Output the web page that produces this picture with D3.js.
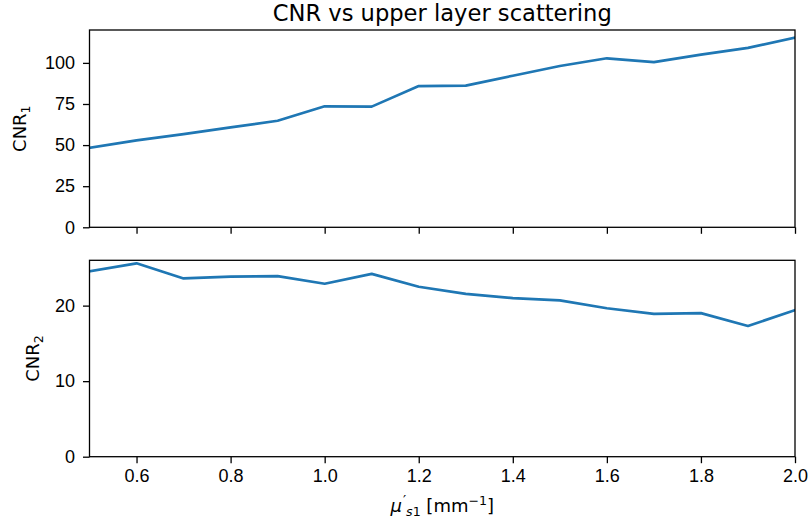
<!DOCTYPE html>
<html>
<head>
<meta charset="utf-8">
<script src="https://cdn.jsdelivr.net/npm/d3@7"></script>
<style>
  body { margin: 0; background: #fff; }
  svg { font-family: "DejaVu Sans", sans-serif; }
  .axis line { stroke: #000; stroke-width: 1.3; }
  .axis text { font-size: 18px; fill: #000; }
</style>
</head>
<body>
<div class="chart"></div>
<script>
// data
const mu_s1 = [0.5, 0.6, 0.7, 0.8, 0.9, 1.0, 1.1, 1.2, 1.3, 1.4, 1.5, 1.6, 1.7, 1.8, 1.9, 2.0];
const cnr1 = [48.4, 52.9, 56.7, 60.8, 64.8, 73.6, 73.4, 85.9, 86.2, 92.2, 98.1, 102.8, 100.5, 105.0, 109.1, 115.3];
const cnr2 = [24.55, 25.6, 23.6, 23.85, 23.9, 22.9, 24.2, 22.5, 21.55, 21.0, 20.7, 19.65, 18.9, 19.0, 17.3, 19.4];
const xTicks = [0.6, 0.8, 1.0, 1.2, 1.4, 1.6, 1.8, 2.0];
const y1Ticks = [0, 25, 50, 75, 100];
const y2Ticks = [0, 10, 20];

const svg_width = 811, svg_height = 527;
const left = 89.5, right = 795;
const top1 = 30, bot1 = 227.3;
const top2 = 260.3, bot2 = 456.7;

const svg = d3.select('.chart').append('svg')
    .attr('width', svg_width).attr('height', svg_height);

const xScale = d3.scaleLinear().domain([0.5, 2.0]).range([left, right]);
const y1Scale = d3.scaleLinear().domain([0, 120]).range([bot1, top1]);
const y2Scale = d3.scaleLinear().domain([0, 26]).range([bot2, top2]);

function drawPanel(yScale, yTicks, values, showXLabels){
    const g = svg.append('g');
    const yTop = yScale.range()[1], yBot = yScale.range()[0];

    // clip so the line stays inside the frame like matplotlib
    const clipId = 'clip' + Math.round(yTop);
    g.append('clipPath').attr('id', clipId)
        .append('rect')
        .attr('x', left).attr('y', yTop)
        .attr('width', right - left).attr('height', yBot - yTop);

    const line = d3.line().x((d, i) => xScale(mu_s1[i])).y(d => yScale(d));
    g.append('path').datum(values)
        .attr('d', line)
        .attr('clip-path', `url(#${clipId})`)
        .attr('fill', 'none')
        .attr('stroke', '#1f77b4')
        .attr('stroke-width', 2.7)
        .attr('stroke-linejoin', 'round')
        .attr('stroke-linecap', 'square');

    const xAxis = d3.axisBottom(xScale).tickValues(xTicks)
        .tickFormat(showXLabels ? d3.format('.1f') : '')
        .tickSizeInner(6.5).tickSizeOuter(0).tickPadding(6);
    g.append('g').attr('class', 'x axis')
        .attr('transform', `translate(0,${yBot})`)
        .call(xAxis)
        .call(a => a.select('.domain').remove());

    const yAxis = d3.axisLeft(yScale).tickValues(yTicks)
        .tickSizeInner(6.5).tickSizeOuter(0).tickPadding(8);
    g.append('g').attr('class', 'y axis')
        .attr('transform', `translate(${left},0)`)
        .call(yAxis)
        .call(a => a.select('.domain').remove());

    // frame
    g.append('rect')
        .attr('x', left).attr('y', yTop)
        .attr('width', right - left).attr('height', yBot - yTop)
        .attr('fill', 'none').attr('stroke', '#000').attr('stroke-width', 1.3);
}

drawPanel(y1Scale, y1Ticks, cnr1, false);
drawPanel(y2Scale, y2Ticks, cnr2, true);

// title
svg.append('text')
    .attr('x', (left + right) / 2).attr('y', 21)
    .attr('text-anchor', 'middle')
    .style('font-size', '22.6px')
    .text('CNR vs upper layer scattering');

// y labels
function yLabel(x, y, sub){
    const t = svg.append('text')
        .attr('transform', `translate(${x},${y}) rotate(-90)`)
        .attr('text-anchor', 'middle')
        .style('font-size', '18px');
    t.append('tspan').text('CNR');
    t.append('tspan').text(sub).attr('dy', 4).style('font-size', '12.6px');
}
yLabel(25.5, (top1 + bot1) / 2, '1');
yLabel(38.5, (top2 + bot2) / 2, '2');

// x label: mu'_{s1} [mm^-1]
const xl = svg.append('text')
    .attr('x', (left + right) / 2).attr('y', 512)
    .attr('text-anchor', 'middle')
    .style('font-size', '18px');
xl.append('tspan').text('\u03bc').style('font-style', 'italic');
xl.append('tspan').text('\u2032').attr('dy', -7).attr('dx', 1).style('font-size', '14px');
xl.append('tspan').text('s').attr('dy', 11).style('font-size', '12.6px').style('font-style', 'italic');
xl.append('tspan').text('1').style('font-size', '12.6px');
xl.append('tspan').text(' [mm').attr('dy', -4);
xl.append('tspan').text('\u22121').attr('dy', -7).style('font-size', '12.6px');
xl.append('tspan').text(']').attr('dy', 7);
</script>
</body>
</html>
